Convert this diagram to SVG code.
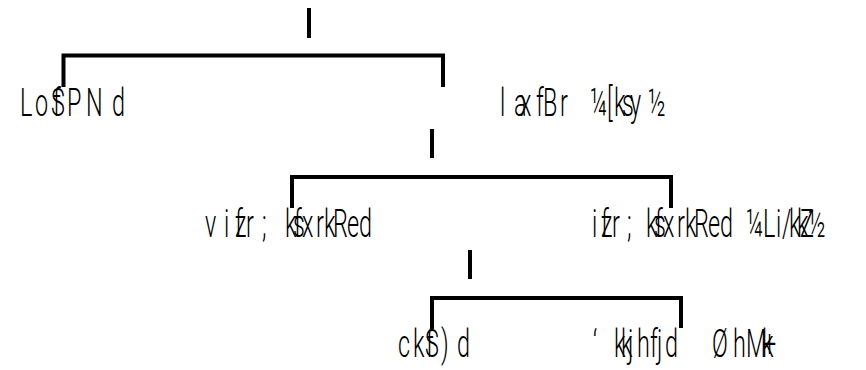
<svg xmlns="http://www.w3.org/2000/svg" width="866" height="370" viewBox="0 0 866 370">
<style>
.t{font-family:Roboto,"Liberation Sans",sans-serif;font-weight:300;font-size:39px;fill:#000}
.c{fill:none;stroke:#000;stroke-width:4;stroke-linecap:butt;stroke-linejoin:miter}
</style>
<rect width="866" height="370" fill="#fff"/>
<g id="connectors">
<path class="c" d="M309 8V38"/>
<path class="c" d="M63.5 87V55.5H443V87"/>
<path class="c" d="M432 129V158"/>
<path class="c" d="M292 208V177H671V208"/>
<path class="c" d="M470 250V279"/>
<path class="c" d="M432 328V298H681V328"/>
</g>
<g id="n1"><text class="t" transform="scale(0.6,1)" y="116" x="33.3 58.3 85 88.3 111.7 143.3 186.7">LoSfPNd</text></g>
<g id="n2"><text class="t" transform="scale(0.6,1)" y="116" x="833.3 856.7 866.7 893.3 905 933.3 958.3 983.3 1011.7 1023.3 1036.7 1050 1080">laxfBr ¼[ksy½</text></g>
<g id="n3"><text class="t" transform="scale(0.6,1)" y="237" x="341.7 373.3 391.7 391.7 410 436.7 475 488.3 490 503.3 526.7 540 555 578.3 598.3">vizfr;ksfxrkRed</text></g>
<g id="n4"><text class="t" transform="scale(0.6,1)" y="237" x="986.7 1001.7 1001.7 1020 1045 1076.7 1090 1091.7 1105 1128.3 1141.7 1156.7 1180 1200 1226.7 1243.3 1271.7 1293.3 1303.3 1315 1328.3 1333.3 1346.7">izfr;ksfxrkRed ¼Li/kkZ½</text></g>
<g id="n5"><text class="t" transform="scale(0.6,1)" y="357" x="663.3 688.3 708.3 710 735 761.7">ckSf)d</text></g>
<g id="n6"><text class="t" transform="scale(0.6,1)" y="357" x="988.3 1023.3 1035 1046.7 1061.7 1083.3 1095 1108.3 1150 1186.7 1221.7 1243.3 1271.7 1270">‘kkjhfjd ØhM+k</text></g>
</svg>
